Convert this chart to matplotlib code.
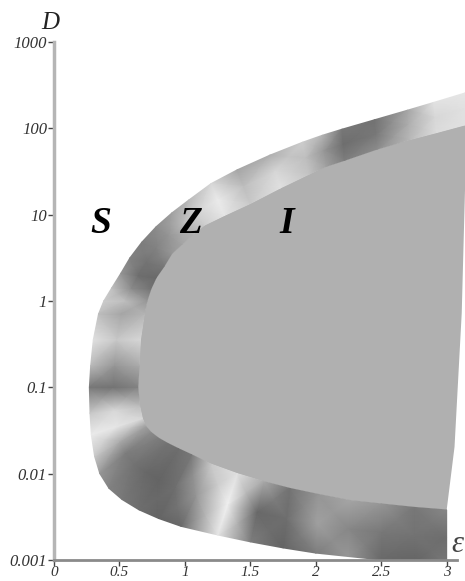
import numpy as np
import matplotlib.pyplot as plt
from matplotlib.ticker import NullLocator, FixedLocator

# band Z: paired stations (outer edge S/Z, inner edge Z/I), log10(D) values
outer_x = [3.00, 2.75, 2.50, 2.25, 2.00, 1.75, 1.50, 1.25, 0.97, 0.80, 0.65, 0.52, 0.42,
           0.35, 0.31, 0.285, 0.275, 0.27, 0.28, 0.30, 0.34, 0.38, 0.44, 0.51, 0.58, 0.67,
           0.78, 0.90, 1.03, 1.20, 1.40, 1.65, 1.90, 2.05, 2.20, 2.45, 2.70, 2.90, 3.14]
outer_logD = [-3.06, -3.03, -3.00, -2.96, -2.92, -2.86, -2.79, -2.71, -2.61, -2.52, -2.42,
              -2.30, -2.17, -2.00, -1.80, -1.55, -1.30, -1.00, -0.75, -0.45, -0.15, 0.00,
              0.15, 0.32, 0.50, 0.68, 0.86, 1.02, 1.17, 1.36, 1.52, 1.69, 1.84, 1.92, 1.99,
              2.10, 2.21, 2.30, 2.41]
inner_x = [3.00, 2.75, 2.50, 2.26, 2.02, 1.80, 1.60, 1.40, 1.20, 1.05, 0.95, 0.87, 0.80,
           0.74, 0.70, 0.675, 0.655, 0.64, 0.65, 0.66, 0.69, 0.71, 0.74, 0.78, 0.84, 0.90,
           0.98, 1.06, 1.15, 1.30, 1.50, 1.73, 1.95, 2.08, 2.22, 2.47, 2.72, 2.92, 3.14]
inner_logD = [-2.42, -2.39, -2.35, -2.31, -2.24, -2.17, -2.09, -2.00, -1.89, -1.78, -1.71,
              -1.65, -1.59, -1.52, -1.45, -1.36, -1.22, -1.00, -0.75, -0.45, -0.15, 0.00,
              0.14, 0.27, 0.40, 0.55, 0.66, 0.77, 0.88, 0.99, 1.13, 1.31, 1.47, 1.56, 1.63,
              1.76, 1.87, 1.95, 2.04]
# grey level of the mottled band (0 black .. 255 white): outer edge, middle, inner edge
outer_shade = [120, 100, 105, 150, 125, 100, 125, 230, 105, 100, 110, 120, 130, 150, 200,
               235, 200, 120, 185, 225, 190, 205, 195, 150, 130, 125, 140, 160, 185, 215,
               165, 175, 205, 180, 120, 115, 165, 225, 230]
mid_shade = [110, 115, 120, 135, 160, 110, 105, 240, 150, 110, 100, 105, 115, 125, 170,
             230, 215, 115, 150, 200, 165, 190, 140, 110, 115, 130, 150, 185, 210, 235,
             190, 215, 190, 150, 110, 120, 175, 215, 225]
inner_shade = [135, 120, 150, 165, 150, 115, 170, 225, 200, 120, 110, 115, 125, 140, 160,
               215, 190, 130, 170, 215, 180, 150, 115, 105, 120, 150, 165, 175, 205, 230,
               200, 225, 195, 160, 125, 140, 185, 220, 225]

# right edge of region I (top to bottom)
edge_x = [3.14, 3.14, 3.115, 3.06, 3.00]
edge_logD = [2.04, 1.29, -0.14, -1.69, -2.42]

yticks = [0.001, 0.01, 0.1, 1, 10, 100, 1000]
ylabels = ['0.001', '0.01', '0.1', '1', '10', '100', '1000']
xticks = [0, 0.5, 1, 1.5, 2, 2.5, 3]
xlabels = ['0', '0.5', '1', '1.5', '2', '2.5', '3']

serif = ['Liberation Serif', 'DejaVu Serif']

fig = plt.figure(figsize=(4.65, 5.81), dpi=100)
ax = fig.add_axes([54 / 465, 21 / 581, 1 - 54 / 465, 518 / 581])
ax.set_yscale('log')
ax.set_xlim(0, 3.14)
ax.set_ylim(0.001, 1000)

# region I
ix = list(inner_x) + edge_x[1:]
iy = list(inner_logD) + edge_logD[1:]
ax.fill(ix, 10 ** np.array(iy), color='#b0b0b0', lw=0, zorder=1)

# region Z (mottled band), three rows across the band
ox, oy = np.array(outer_x), np.array(outer_logD)
nx, ny = np.array(inner_x), np.array(inner_logD)
X = np.array([ox, (ox + nx) / 2, nx])
Y = 10 ** np.array([oy, (oy + ny) / 2, ny])
C = np.array([outer_shade, mid_shade, inner_shade], dtype=float)
ax.pcolormesh(X, Y, C, shading='gouraud', cmap='gray', vmin=0, vmax=255, zorder=2)

ax.text(0.36, 8, 'S', fontsize=27, fontweight='bold', fontstyle='italic', family=serif,
        ha='center', va='center', zorder=5)
ax.text(1.04, 8, 'Z', fontsize=27, fontweight='bold', fontstyle='italic', family=serif,
        ha='center', va='center', zorder=5)
ax.text(1.78, 8, 'I', fontsize=27, fontweight='bold', fontstyle='italic', family=serif,
        ha='center', va='center', zorder=5)

for s in ['top', 'right']:
    ax.spines[s].set_visible(False)
ax.spines['left'].set_color('#b5b5b5')
ax.spines['left'].set_linewidth(2.5)
ax.spines['bottom'].set_color('#8a8a8a')
ax.spines['bottom'].set_linewidth(2)
ax.spines['bottom'].set_bounds(0, 3.08)
ax.spines['left'].set_zorder(6)
ax.spines['bottom'].set_zorder(6)

ax.yaxis.set_major_locator(FixedLocator(yticks))
ax.yaxis.set_minor_locator(NullLocator())
ax.set_yticklabels(ylabels)
ax.set_xticks(xticks)
ax.set_xticklabels(xlabels)
ax.tick_params(direction='out', length=4, width=1, color='#444444', pad=1)
ax.tick_params(axis='x', pad=0)
for lab in ax.get_yticklabels():
    lab.set_family(serif)
    lab.set_fontstyle('italic')
    lab.set_fontsize(12)
    lab.set_color('#333333')
for lab in ax.get_xticklabels():
    lab.set_family(serif)
    lab.set_fontstyle('italic')
    lab.set_fontsize(11)
    lab.set_color('#333333')

fig.text(50 / 465, 1 - 23 / 581, 'D', fontsize=18, fontstyle='italic', family=serif,
         ha='center', va='center', color='#222222')
fig.text(463 / 465, 1 - 544 / 581, 'ε', fontsize=22, fontstyle='italic', family=serif,
         ha='right', va='center', color='#444444', zorder=7)

fig.savefig('out.png', dpi=100)
